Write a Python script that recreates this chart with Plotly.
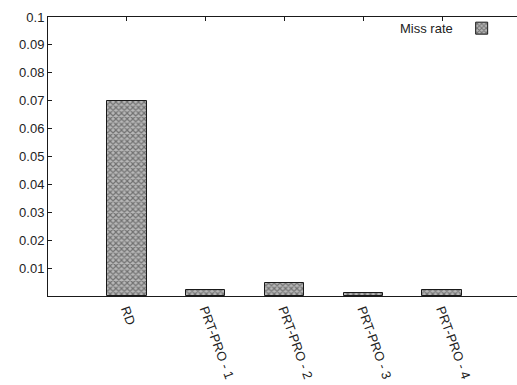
import plotly.graph_objects as go

categories = ["RD", "PRT-PRO - 1", "PRT-PRO - 2", "PRT-PRO - 3", "PRT-PRO - 4"]
miss_rate = [0.07, 0.002, 0.0045, 0.001, 0.002]
y_ticks = [0.01, 0.02, 0.03, 0.04, 0.05, 0.06, 0.07, 0.08, 0.09, 0.1]
y_tick_labels = ["0.01", "0.02", "0.03", "0.04", "0.05", "0.06", "0.07", "0.08", "0.09", "0.1"]

positions = list(range(1, len(categories) + 1))

fig = go.Figure()
fig.add_trace(go.Bar(
    x=positions, y=miss_rate, name=" ", width=0.5,
    marker=dict(
        color="#888888",
        line=dict(color="#1a1a1a", width=1),
        pattern=dict(shape="x", size=4, solidity=0.5, fgcolor="#2a2a2a", bgcolor="#b8b8b8"),
    ),
    showlegend=True,
))

fig.add_annotation(
    text="Miss rate", xref="paper", yref="paper", x=0.868, y=0.96,
    xanchor="right", yanchor="middle", showarrow=False,
    font=dict(family="Liberation Sans, Arial, sans-serif", size=13, color="#222222"),
)

fig.update_layout(
    width=517, height=385,
    margin=dict(l=48, r=0, t=17, b=89, autoexpand=False),
    paper_bgcolor="white", plot_bgcolor="white",
    font=dict(family="Liberation Sans, Arial, sans-serif", size=13, color="#222222"),
    legend=dict(x=0.882, y=0.96, xanchor="left", yanchor="middle",
                bgcolor="rgba(0,0,0,0)", font=dict(size=1), itemwidth=30),
    bargap=0,
)
fig.update_xaxes(
    range=[0, 5.95], tickvals=positions, ticktext=categories, tickangle=70,
    showline=True, linecolor="#1a1a1a", linewidth=1, mirror="ticks",
    ticks="inside", ticklen=4, tickcolor="#1a1a1a", layer="below traces",
    showgrid=False, zeroline=False, automargin=False,
)
fig.update_yaxes(
    range=[0, 0.1], tickvals=y_ticks, ticktext=y_tick_labels,
    showline=True, linecolor="#1a1a1a", linewidth=1, mirror=False,
    ticks="inside", ticklen=4, tickcolor="#1a1a1a",
    showgrid=False, zeroline=False, automargin=False,
)

fig.write_html(
    "out.html",
    config={"displayModeBar": False},
    post_script="document.body.style.margin='0';document.body.style.overflow='hidden';",
)
